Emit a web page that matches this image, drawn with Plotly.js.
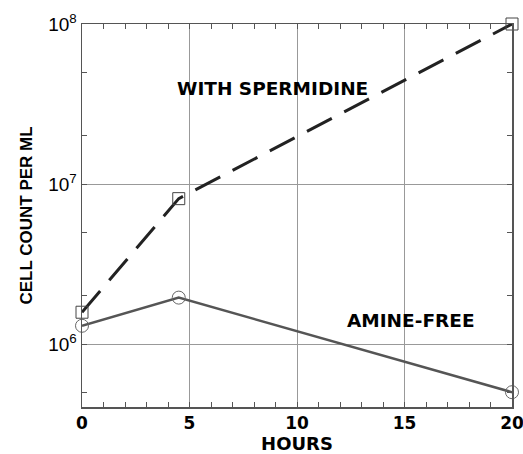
<!DOCTYPE html>
<html><head><meta charset="utf-8">
<script src="https://cdn.plot.ly/plotly-3.0.1.min.js"></script>
<style>body{margin:0;padding:0;background:#fff}#chart{width:523px;height:454px}</style>
</head><body><div id="chart"></div>
<script>
const hours = [0, 4.5, 20];
const withSpermidine = [1.58e6, 8.1e6, 1.0e8];
const amineFree = [1.3e6, 1.95e6, 5.0e5];
const yTickVals = [1e6, 1e7, 1e8];
const yTickText = ['10<sup>6</sup>', '10<sup>7</sup>', '10<sup>8</sup>'];
const xTickVals = [0, 5, 10, 15, 20];
const labelSpermidine = 'WITH SPERMIDINE';
const labelAmineFree = 'AMINE-FREE';

const font = 'Liberation Sans, Arial, Helvetica, sans-serif';
const boldFont = 'DejaVu Sans, Liberation Sans, Arial, sans-serif';
const traces = [
  {x: hours, y: amineFree, mode: 'lines', line: {color: '#555', width: 2.5}, hoverinfo: 'skip'},
  {x: hours, y: amineFree, mode: 'markers', cliponaxis: false,
   marker: {symbol: 'circle-open', size: 13, color: '#666', line: {width: 1, color: '#666'}}},
  {x: hours, y: withSpermidine, mode: 'lines', line: {color: '#222', width: 3, dash: '28px,14px'}},
  {x: hours, y: withSpermidine, mode: 'markers', cliponaxis: false,
   marker: {symbol: 'square-open', size: 12, color: '#444', line: {width: 1, color: '#444'}}}
];
const layout = {
  width: 523, height: 454,
  margin: {l: 82, r: 11, t: 24, b: 47},
  showlegend: false,
  paper_bgcolor: '#fff', plot_bgcolor: '#fff',
  font: {family: font, color: '#000'},
  xaxis: {
    range: [0, 20], tickvals: xTickVals, ticks: 'inside', ticklen: 0,
    ticklabeloverflow: 'allow',
    showgrid: true, gridcolor: '#999', gridwidth: 1, zeroline: false,
    showline: true, linecolor: '#555', linewidth: 1.5, mirror: 'allticks',
    tickfont: {size: 17, family: boldFont, weight: 'bold'},
    minor: {dtick: 1, ticks: 'inside', ticklen: 5, tickcolor: '#555', showgrid: false},
    title: {text: 'HOURS', font: {size: 18, family: boldFont, weight: 'bold'}, standoff: 9}
  },
  yaxis: {
    type: 'log', range: [Math.log10(4.04e5), 8], tickvals: yTickVals, ticktext: yTickText,
    ticks: 'inside', ticklen: 0, ticklabeloverflow: 'allow',
    showgrid: true, gridcolor: '#999', gridwidth: 1, zeroline: false,
    showline: true, linecolor: '#555', linewidth: 1.5, mirror: 'allticks',
    tickfont: {size: 19, family: font},
    minor: {dtick: 'D2', ticks: 'inside', ticklen: 5, tickcolor: '#555', showgrid: false},
    title: {text: 'CELL COUNT PER ML', font: {size: 17, family: font, weight: 'bold'}, standoff: 11}
  },
  annotations: [
    {x: 8.84, y: 7.6, xref: 'x', yref: 'y', text: labelSpermidine, showarrow: false,
     font: {size: 18.5, family: boldFont, weight: 'bold'}},
    {x: 15.3, y: 6.144, xref: 'x', yref: 'y', text: labelAmineFree, showarrow: false,
     font: {size: 18.5, family: boldFont, weight: 'bold'}}
  ]
};
Plotly.newPlot('chart', traces, layout, {displayModeBar: false, staticPlot: true});
</script></body></html>
